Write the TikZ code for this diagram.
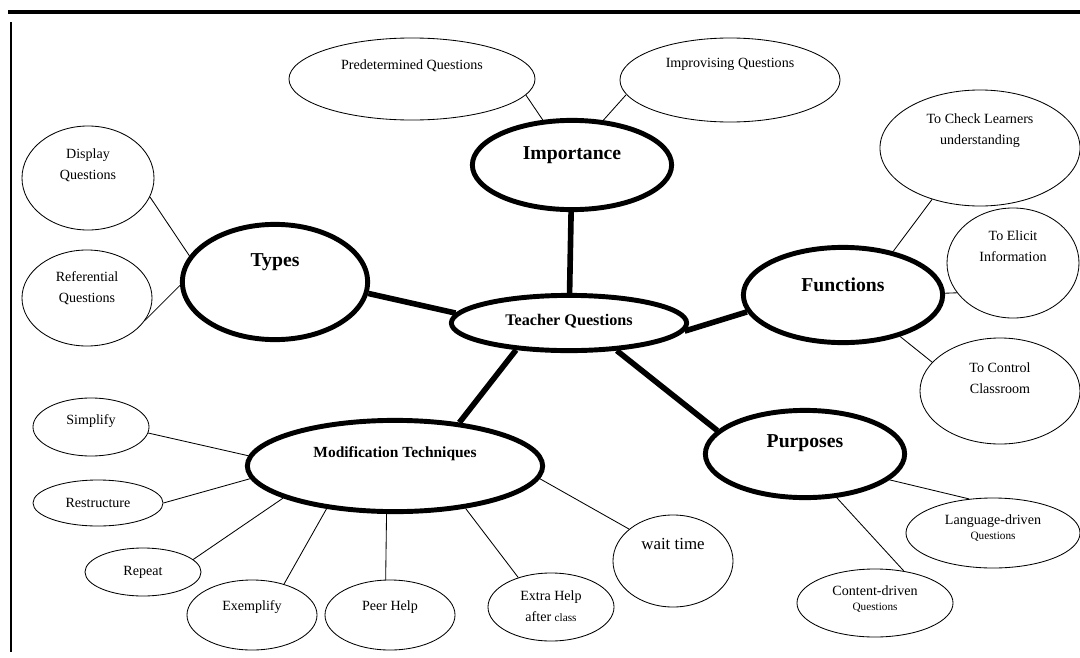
\documentclass[tikz,border=0pt]{standalone}
\usepackage{fontspec}
\setmainfont{Liberation Serif}
\usepackage{tikz}
\usetikzlibrary{shapes.geometric}

\begin{document}
\begin{tikzpicture}[x=0.025cm,y=-0.025cm,
    oval/.style={ellipse,draw,line width=.6pt,inner sep=0pt},
    bigoval/.style={ellipse,draw,line width=3.5pt,inner sep=0pt},
    every label/.style={align=center,font=\fontsize{10}{15}\selectfont},
    twig/.style={line width=.6pt},
    limb/.style={line width=4pt},
    hd/.style={font=\bfseries\fontsize{14}{16}\selectfont}]
  \useasboundingbox (0,0) rectangle (1080,658);
  \draw[line width=2.8pt] (8,12) -- (1080,12);
  \draw[line width=1pt] (11,22) -- (11,652);

  \node[bigoval,minimum width=5.88cm,minimum height=1.38cm,
    label={[font=\bfseries\fontsize{11.5}{14}\selectfont,yshift=.05cm]center:Teacher Questions}] (tq) at (569,323) {};
  \node[bigoval,minimum width=4.98cm,minimum height=2.23cm,
    label={[hd,yshift=.25cm]center:Importance}] (imp) at (572,165) {};
  \node[bigoval,minimum width=4.63cm,minimum height=2.88cm,
    label={[hd,yshift=.5cm]center:Types}] (typ) at (275,282) {};
  \node[bigoval,minimum width=4.98cm,minimum height=2.38cm,
    label={[hd,yshift=.25cm]center:Functions}] (fun) at (843,295) {};
  \node[bigoval,minimum width=4.98cm,minimum height=2.18cm,
    label={[hd,yshift=.28cm]center:Purposes}] (pur) at (805,454) {};
  \node[bigoval,minimum width=7.38cm,minimum height=2.28cm,
    label={[font=\bfseries\fontsize{11}{13}\selectfont,yshift=.3cm]center:Modification Techniques}] (mod) at (395,466) {};

  \node[oval,minimum width=6.15cm,minimum height=2.05cm,
    label={[yshift=.33cm]center:Predetermined Questions}] (pre) at (412,79) {};
  \node[oval,minimum width=5.5cm,minimum height=2.1cm,
    label={[yshift=.38cm]center:Improvising Questions}] (imq) at (730,80) {};
  \node[oval,minimum width=3.3cm,minimum height=2.6cm,
    label={[yshift=.31cm]center:Display\\Questions}] (dis) at (88,178) {};
  \node[oval,minimum width=3.25cm,minimum height=2.4cm,
    label={[yshift=.25cm]center:Referential\\Questions}] (ref) at (87,298) {};
  \node[oval,minimum width=5cm,minimum height=2.9cm,
    label={[yshift=.43cm]center:To Check Learners\\understanding}] (chk) at (980,148) {};
  \node[oval,minimum width=3.3cm,minimum height=2.75cm,
    label={[yshift=.43cm]center:To Elicit\\Information}] (eli) at (1013,263) {};
  \node[oval,minimum width=4cm,minimum height=2.65cm,
    label={[yshift=.33cm]center:To Control\\Classroom}] (ctl) at (1000,391) {};
  \node[oval,minimum width=4.35cm,minimum height=1.75cm,
    label={[yshift=.12cm]center:Language-driven\\[-4pt]{\fontsize{8}{9}\selectfont Questions}}] (lan) at (993,533) {};
  \node[oval,minimum width=3.9cm,minimum height=1.7cm,
    label={[yshift=.1cm]center:Content-driven\\[-4pt]{\fontsize{8}{9}\selectfont Questions}}] (con) at (875,603) {};
  \node[oval,minimum width=2.9cm,minimum height=1.45cm,
    label={[yshift=.15cm]center:Simplify}] (sim) at (91,427) {};
  \node[oval,minimum width=3.25cm,minimum height=1.15cm,
    label={center:Restructure}] (res) at (98,503) {};
  \node[oval,minimum width=2.9cm,minimum height=1.2cm,
    label={center:Repeat}] (rep) at (143,572) {};
  \node[oval,minimum width=3.25cm,minimum height=1.75cm,
    label={[yshift=.2cm]center:Exemplify}] (exe) at (252,615) {};
  \node[oval,minimum width=3.25cm,minimum height=1.75cm,
    label={[yshift=.2cm]center:Peer Help}] (peer) at (390,615) {};
  \node[oval,minimum width=3.15cm,minimum height=1.7cm,
    label={[yshift=.03cm]center:Extra Help\\after {\fontsize{8}{9}\selectfont class}}] (xtra) at (551,607) {};
  \node[oval,minimum width=3cm,minimum height=2.3cm,
    label={[font=\fontsize{12}{14}\selectfont,yshift=.43cm]center:wait time}] (wt) at (673,561) {};

  \draw[limb] (imp) -- (tq);
  \draw[limb] (typ.-7) -- (tq.175);
  \draw[limb] (tq.-4) -- (fun.190);
  \draw[limb] (tq.207) -- (mod.34);
  \draw[limb] (tq.-30) -- (pur.165);

  \draw[twig] (pre.-8) -- (imp.123);
  \draw[twig] (imq.-172) -- (imp.55);
  \draw[twig] (dis.-17) -- (typ.163);
  \draw[twig] (ref.-21) -- (typ.182);
  \draw[twig] (fun.41) -- (chk.-133);
  \draw[twig] (fun.1) -- (eli.208);
  \draw[twig] (fun.-36) -- (ctl.157);
  \draw[twig] (pur.-17) -- (lan.125);
  \draw[twig] (pur.-54) -- (con.48);
  \draw[twig] (sim.-6) -- (mod.176);
  \draw[twig] (res.0) -- (mod.185);
  \draw[twig] (rep.14) -- (mod.196);
  \draw[twig] (exe.44) -- (mod.212);
  \draw[twig] (peer.97) -- (mod.260);
  \draw[twig] (xtra.138) -- (mod.-31);
  \draw[twig] (wt.144) -- (mod.-5);
\end{tikzpicture}
\end{document}
